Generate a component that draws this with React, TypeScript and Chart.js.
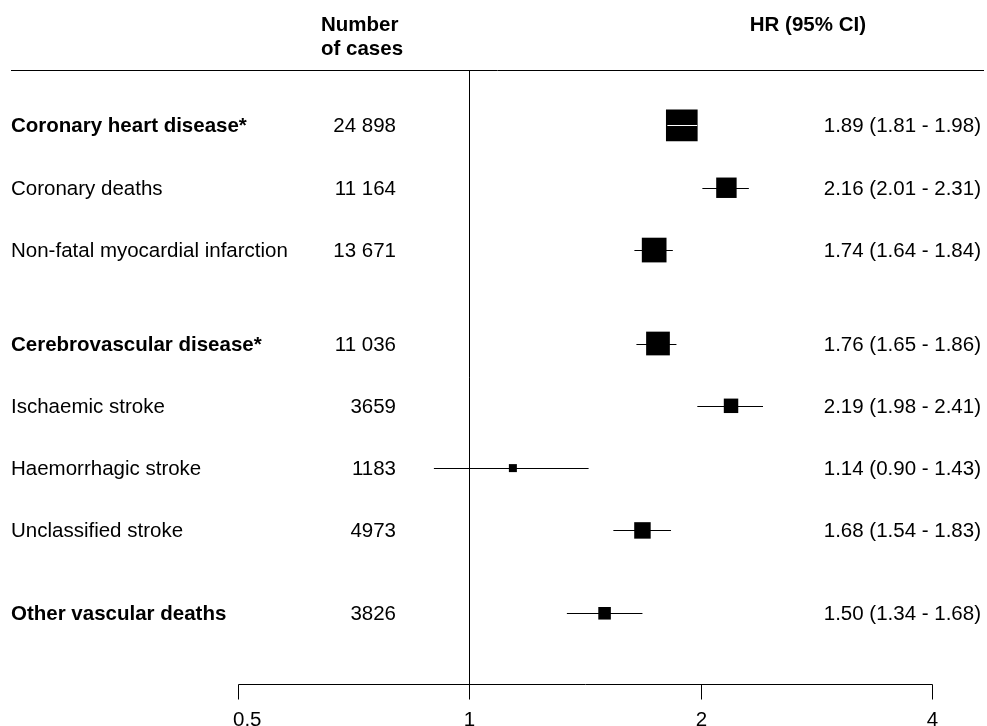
import React, { useEffect, useRef } from "react";
import { Chart, registerables } from "chart.js";

Chart.register(...registerables);

// ---- data ----
const outcomes = [
  "Coronary heart disease*",
  "Coronary deaths",
  "Non-fatal myocardial infarction",
  "Cerebrovascular disease*",
  "Ischaemic stroke",
  "Haemorrhagic stroke",
  "Unclassified stroke",
  "Other vascular deaths",
];
const isSummary = [true, false, false, true, false, false, false, true];
const cases = [24898, 11164, 13671, 11036, 3659, 1183, 4973, 3826];
const hr = [1.89, 2.16, 1.74, 1.76, 2.19, 1.14, 1.68, 1.5];
const ciLow = [1.81, 2.01, 1.64, 1.65, 1.98, 0.9, 1.54, 1.34];
const ciHigh = [1.98, 2.31, 1.84, 1.86, 2.41, 1.43, 1.83, 1.68];
const xTicks = [0.5, 1, 2, 4];
const headerCases = ["Number", "of cases"];
const headerHR = "HR (95% CI)";

// ---- layout helpers ----
const extraGapBefore: Record<number, number> = { 3: 0.5, 7: 0.33 };
const rowPos: number[] = [];
{
  let acc = 0;
  for (let i = 0; i < outcomes.length; i++) {
    acc += extraGapBefore[i] || 0;
    rowPos.push(i + acc);
  }
}
const FONT = '"Liberation Sans", Arial, Helvetica, sans-serif';
const FS = 20.5;

function boxSide(i: number) {
  const w = Math.log2(ciHigh[i] / ciLow[i]);
  return Math.max(8, 4.1 / w);
}

function fmtCases(n: number) {
  const s = String(n);
  if (n >= 10000) return s.slice(0, s.length - 3) + " " + s.slice(s.length - 3);
  return s;
}

const forestPlugin = {
  id: "forest",
  beforeDatasetsDraw(chart: any) {
    const ctx = chart.ctx;
    const xs = chart.scales.x;
    const ys = chart.scales.y;
    const area = chart.chartArea;
    ctx.save();
    ctx.strokeStyle = "#000";
    ctx.lineWidth = 1;
    // header rule
    const ty = Math.round(area.top) + 0.5;
    ctx.beginPath();
    ctx.moveTo(11, ty);
    ctx.lineTo(984, ty);
    ctx.stroke();
    // reference line at HR = 1
    const rx = Math.round(xs.getPixelForValue(1)) + 0.5;
    ctx.beginPath();
    ctx.moveTo(rx, area.top);
    ctx.lineTo(rx, area.bottom);
    ctx.stroke();
    // CI lines
    for (let i = 0; i < hr.length; i++) {
      const py = Math.round(ys.getPixelForValue(rowPos[i])) + 0.5;
      ctx.beginPath();
      ctx.moveTo(xs.getPixelForValue(ciLow[i]), py);
      ctx.lineTo(xs.getPixelForValue(ciHigh[i]), py);
      ctx.stroke();
    }
    ctx.restore();
  },
  afterDatasetsDraw(chart: any) {
    const ctx = chart.ctx;
    const xs = chart.scales.x;
    const ys = chart.scales.y;
    const area = chart.chartArea;
    ctx.save();
    // white CI line where the CI lies inside its box
    ctx.strokeStyle = "#fff";
    ctx.lineWidth = 1;
    for (let i = 0; i < hr.length; i++) {
      const cx = xs.getPixelForValue(hr[i]);
      const half = boxSide(i) / 2;
      const lo = xs.getPixelForValue(ciLow[i]);
      const hi = xs.getPixelForValue(ciHigh[i]);
      if (lo >= cx - half - 1 && hi <= cx + half + 1) {
        const py = Math.round(ys.getPixelForValue(rowPos[i])) + 0.5;
        ctx.beginPath();
        ctx.moveTo(lo, py);
        ctx.lineTo(hi, py);
        ctx.stroke();
      }
    }

    // texts
    ctx.fillStyle = "#000";
    ctx.textBaseline = "alphabetic";
    // headers
    ctx.font = `bold ${FS}px ${FONT}`;
    ctx.textAlign = "left";
    ctx.fillText(headerCases[0], 321, 31);
    ctx.fillText(headerCases[1], 321, 55);
    ctx.textAlign = "right";
    ctx.fillText(headerHR, 866, 31);

    for (let i = 0; i < outcomes.length; i++) {
      const py = ys.getPixelForValue(rowPos[i]) + 7;
      ctx.font = `${isSummary[i] ? "bold " : ""}${FS}px ${FONT}`;
      ctx.textAlign = "left";
      ctx.fillText(outcomes[i], 11, py);
      ctx.font = `${FS}px ${FONT}`;
      ctx.textAlign = "right";
      ctx.fillText(fmtCases(cases[i]), 396, py);
      ctx.fillText(
        `${hr[i].toFixed(2)} (${ciLow[i].toFixed(2)} - ${ciHigh[i].toFixed(2)})`,
        981,
        py
      );
    }

    // x axis
    ctx.strokeStyle = "#000";
    ctx.lineWidth = 1;
    const ay = Math.round(area.bottom) + 0.5;
    const x0 = Math.round(xs.getPixelForValue(xTicks[0])) + 0.5;
    const x1 = Math.round(xs.getPixelForValue(xTicks[xTicks.length - 1])) + 0.5;
    ctx.beginPath();
    ctx.moveTo(x0, ay);
    ctx.lineTo(x1, ay);
    ctx.stroke();
    ctx.font = `${FS}px ${FONT}`;
    ctx.textAlign = "left";
    for (const t of xTicks) {
      const tx = Math.round(xs.getPixelForValue(t)) + 0.5;
      ctx.beginPath();
      ctx.moveTo(tx, ay);
      ctx.lineTo(tx, ay + 15);
      ctx.stroke();
      const label = String(t);
      const w = ctx.measureText(label).width;
      let left = tx - w / 2;
      if (left < area.left - 4.5) left = area.left - 4.5;
      ctx.fillText(label, left, 726);
    }
    ctx.restore();
  },
};

export default function App() {
  const canvasRef = useRef<HTMLCanvasElement | null>(null);

  useEffect(() => {
    if (!canvasRef.current) return;
    const chart = new Chart(canvasRef.current, {
      type: "scatter",
      data: {
        datasets: [
          {
            data: hr.map((v, i) => ({ x: v, y: rowPos[i] })),
            pointStyle: "rect",
            pointRadius: (c: any) => boxSide(c.dataIndex) / (2 * Math.SQRT1_2),
            pointHoverRadius: (c: any) => boxSide(c.dataIndex) / (2 * Math.SQRT1_2),
            backgroundColor: "#000",
            borderColor: "#000",
            borderWidth: 0,
            clip: false as any,
          },
        ],
      },
      options: {
        responsive: false,
        animation: false,
        events: [],
        layout: { padding: { left: 237.5, right: 54.7, top: 70, bottom: 41.7 } },
        plugins: { legend: { display: false }, tooltip: { enabled: false } },
        scales: {
          x: { type: "logarithmic", min: 0.5, max: 4, display: false },
          y: { type: "linear", min: -0.89, max: 8.97, reverse: true, display: false },
        },
      },
      plugins: [forestPlugin],
    });
    return () => chart.destroy();
  }, []);

  return (
    <div style={{ position: "fixed", left: 0, top: 0, width: 987, height: 726, background: "#fff" }}>
      <canvas ref={canvasRef} width={987} height={726} style={{ display: "block" }} />
    </div>
  );
}
